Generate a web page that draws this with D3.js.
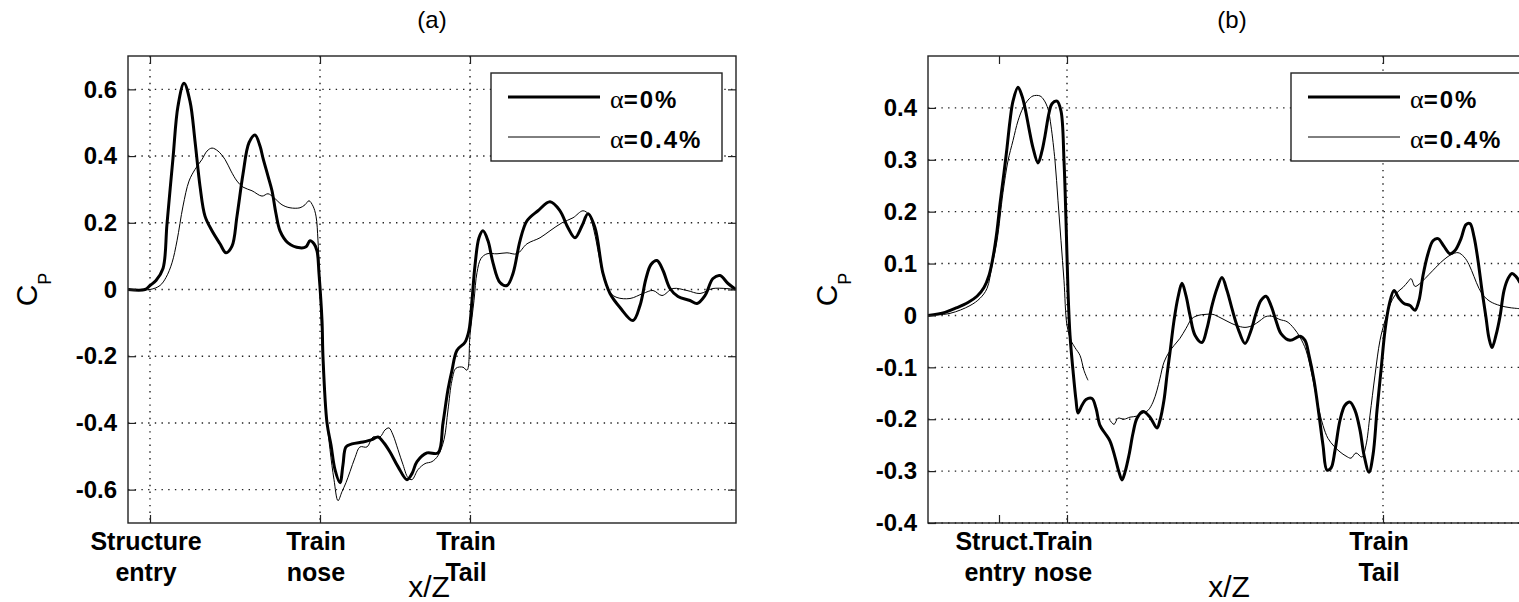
<!DOCTYPE html>
<html><head><meta charset="utf-8">
<script src="https://cdn.jsdelivr.net/npm/d3@7/dist/d3.min.js"></script>
<style>body{margin:0;background:#fff}</style>
</head><body>
<svg id="chart" width="1519" height="602"></svg>
<script>
// ---------------- data ----------------
const seriesNames = ["\u03b1=0%", "\u03b1=0.4%"];

// Panel (a)
const aTickX = [0.22, 1.92, 3.42];
const aTickLabels = [["Structure", "entry"], ["Train", "nose"], ["Train", "Tail"]];
const aTickGrid = [true, true, true];
const aTickY = [-0.6, -0.4, -0.2, 0, 0.2, 0.4, 0.6];

const aThickX = [0.00,0.17,0.22,0.28,0.35,0.39,0.45,0.50,0.56,0.62,0.67,0.72,0.77,0.84,0.92,0.98,1.04,1.09,1.15,1.21,1.27,1.32,1.35,1.40,1.44,1.48,1.52,1.60,1.72,1.78,1.82,1.86,1.89,1.91,1.94,1.95,1.99,2.03,2.07,2.12,2.15,2.18,2.24,2.35,2.44,2.50,2.56,2.62,2.70,2.79,2.84,2.89,2.99,3.10,3.15,3.20,3.24,3.29,3.37,3.41,3.44,3.47,3.51,3.55,3.60,3.65,3.72,3.79,3.85,3.92,3.99,4.10,4.22,4.32,4.40,4.47,4.54,4.60,4.67,4.75,4.82,4.92,5.05,5.12,5.18,5.23,5.29,5.35,5.42,5.50,5.62,5.69,5.77,5.85,5.92,6.00,6.08];
const aThickY = [0.00,0.00,0.012,0.027,0.063,0.197,0.394,0.55,0.618,0.564,0.445,0.31,0.22,0.176,0.137,0.11,0.13,0.22,0.346,0.44,0.463,0.43,0.394,0.34,0.296,0.227,0.176,0.14,0.125,0.128,0.146,0.137,0.116,0.048,-0.093,-0.203,-0.40,-0.466,-0.54,-0.579,-0.525,-0.472,-0.463,-0.457,-0.45,-0.442,-0.46,-0.487,-0.531,-0.57,-0.552,-0.516,-0.49,-0.49,-0.40,-0.30,-0.242,-0.182,-0.158,-0.122,-0.033,0.072,0.155,0.176,0.146,0.08,0.021,0.012,0.048,0.146,0.206,0.236,0.263,0.236,0.185,0.155,0.191,0.227,0.185,0.048,-0.012,-0.054,-0.093,-0.048,0.033,0.075,0.087,0.057,0.003,-0.021,-0.033,-0.042,-0.018,0.033,0.042,0.018,0.00];

const aThinX = [0.00,0.22,0.32,0.38,0.44,0.49,0.55,0.61,0.67,0.74,0.79,0.84,0.90,0.97,1.03,1.09,1.15,1.24,1.34,1.40,1.46,1.54,1.62,1.72,1.77,1.81,1.85,1.88,1.90,1.92,1.94,1.97,2.02,2.06,2.10,2.14,2.18,2.22,2.27,2.32,2.39,2.45,2.52,2.57,2.61,2.65,2.70,2.75,2.80,2.84,2.90,2.97,3.04,3.10,3.16,3.20,3.24,3.28,3.35,3.39,3.42,3.46,3.49,3.53,3.59,3.69,3.79,3.89,3.99,4.12,4.22,4.34,4.45,4.55,4.61,4.66,4.71,4.76,4.82,4.89,5.02,5.15,5.25,5.34,5.45,5.59,5.72,5.85,6.08];
const aThinY = [0.00,0.00,0.012,0.036,0.08,0.146,0.25,0.325,0.36,0.39,0.415,0.424,0.415,0.39,0.355,0.325,0.307,0.296,0.28,0.287,0.275,0.254,0.245,0.245,0.254,0.266,0.25,0.22,0.146,-0.003,-0.152,-0.33,-0.48,-0.57,-0.633,-0.606,-0.579,-0.546,-0.504,-0.472,-0.472,-0.442,-0.442,-0.421,-0.415,-0.436,-0.48,-0.525,-0.564,-0.57,-0.54,-0.522,-0.516,-0.498,-0.45,-0.361,-0.272,-0.236,-0.233,-0.242,-0.137,-0.033,0.051,0.093,0.107,0.107,0.11,0.107,0.137,0.155,0.176,0.20,0.215,0.236,0.224,0.176,0.101,0.033,-0.009,-0.024,-0.027,-0.012,-0.003,-0.018,0.003,-0.003,-0.012,0.003,0.00];

// Panel (b)
const bTickX = [0.71, 1.39, 4.55];
const bTickLabels = [["Struct.", "entry"], ["Train", "nose"], ["Train", "Tail"]];
const bTickGrid = [false, true, true];
const bTickY = [-0.4, -0.3, -0.2, -0.1, 0, 0.1, 0.2, 0.3, 0.4];

const bThickX = [0.00,0.17,0.29,0.40,0.49,0.56,0.61,0.65,0.69,0.72,0.76,0.79,0.82,0.85,0.90,0.94,0.97,1.01,1.05,1.10,1.14,1.17,1.21,1.24,1.29,1.33,1.36,1.38,1.40,1.42,1.45,1.48,1.50,1.54,1.58,1.64,1.68,1.72,1.77,1.82,1.87,1.91,1.94,1.97,2.01,2.05,2.09,2.15,2.22,2.29,2.32,2.36,2.39,2.42,2.46,2.50,2.54,2.58,2.62,2.67,2.74,2.79,2.84,2.89,2.94,2.99,3.04,3.10,3.17,3.23,3.28,3.33,3.38,3.43,3.48,3.53,3.62,3.72,3.77,3.81,3.86,3.91,3.95,3.99,4.03,4.07,4.12,4.17,4.22,4.27,4.32,4.36,4.41,4.45,4.49,4.53,4.57,4.61,4.66,4.71,4.76,4.82,4.87,4.91,4.95,5.00,5.05,5.10,5.16,5.22,5.27,5.33,5.38,5.42,5.46,5.50,5.54,5.58,5.61,5.64,5.68,5.72,5.76,5.80,5.84,5.88,5.92];
const bThickY = [0.00,0.006,0.015,0.025,0.037,0.054,0.077,0.112,0.163,0.215,0.275,0.323,0.375,0.413,0.44,0.423,0.40,0.36,0.323,0.294,0.317,0.346,0.39,0.408,0.413,0.394,0.298,0.183,0.048,-0.038,-0.106,-0.163,-0.188,-0.173,-0.162,-0.16,-0.179,-0.212,-0.227,-0.242,-0.273,-0.302,-0.317,-0.302,-0.269,-0.227,-0.198,-0.185,-0.196,-0.217,-0.202,-0.163,-0.115,-0.071,-0.01,0.035,0.062,0.038,0.00,-0.038,-0.052,-0.025,0.019,0.052,0.073,0.048,0.013,-0.025,-0.054,-0.029,0.004,0.029,0.037,0.019,-0.01,-0.035,-0.048,-0.04,-0.048,-0.077,-0.125,-0.192,-0.25,-0.298,-0.294,-0.26,-0.202,-0.173,-0.167,-0.183,-0.221,-0.269,-0.302,-0.269,-0.183,-0.106,-0.029,0.019,0.048,0.033,0.023,0.019,0.01,0.029,0.077,0.119,0.144,0.148,0.133,0.119,0.125,0.148,0.175,0.177,0.152,0.106,0.048,-0.004,-0.044,-0.062,-0.038,-0.002,0.048,0.071,0.081,0.075,0.063];

const bThinX = [0.00,0.22,0.42,0.52,0.59,0.64,0.69,0.75,0.80,0.85,0.90,0.95,1.00,1.05,1.12,1.16,1.20,1.23,1.27,1.30,1.33,1.36,1.39,1.43,1.47,1.52,1.56,1.60,1.71,1.82,1.86,1.90,1.96,2.02,2.09,2.15,2.20,2.25,2.29,2.32,2.36,2.41,2.46,2.52,2.58,2.64,2.70,2.77,2.85,2.92,3.00,3.08,3.17,3.25,3.32,3.38,3.45,3.52,3.59,3.66,3.72,3.78,3.84,3.90,3.95,4.00,4.06,4.12,4.18,4.23,4.28,4.34,4.38,4.42,4.47,4.52,4.57,4.63,4.69,4.75,4.80,4.83,4.87,4.91,4.97,5.05,5.15,5.23,5.30,5.36,5.41,5.46,5.51,5.56,5.62,5.72,5.82,5.92];
const bThinY = [0.00,0.004,0.019,0.033,0.052,0.096,0.144,0.237,0.298,0.337,0.375,0.40,0.415,0.423,0.423,0.415,0.398,0.365,0.298,0.221,0.144,0.067,-0.019,-0.048,-0.062,-0.077,-0.106,-0.125,null,-0.202,-0.21,-0.198,-0.2,-0.196,-0.194,-0.188,-0.183,-0.167,-0.144,-0.121,-0.09,-0.071,-0.058,-0.044,-0.025,-0.006,0.00,0.002,0.002,-0.004,-0.012,-0.019,-0.023,-0.019,-0.01,-0.002,-0.002,-0.008,-0.012,-0.025,-0.042,-0.067,-0.115,-0.173,-0.212,-0.237,-0.252,-0.263,-0.271,-0.275,-0.265,-0.273,-0.25,-0.192,-0.115,-0.048,-0.01,0.025,0.044,0.054,0.065,0.071,0.056,0.06,0.071,0.087,0.106,0.117,0.121,0.113,0.098,0.075,0.052,0.037,0.027,0.019,0.015,0.013];

// ---------------- drawing ----------------
const svg = d3.select("#chart");
const SANS = "'Liberation Sans', Arial, Helvetica, sans-serif";
const SERIF = "'Liberation Serif', 'Times New Roman', serif";

const panels = [
  { id: "a", title: "(a)", left: 128, top: 56, width: 608, height: 467, yDomain: [-0.7, 0.7],
    tickX: aTickX, tickLabels: aTickLabels, tickGrid: aTickGrid, tickY: aTickY,
    series: [ {x: aThickX, y: aThickY, w: 3}, {x: aThinX, y: aThinY, w: 1} ] },
  { id: "b", title: "(b)", left: 928, top: 56, width: 608, height: 467, yDomain: [-0.4, 0.5],
    tickX: bTickX, tickLabels: bTickLabels, tickGrid: bTickGrid, tickY: bTickY,
    series: [ {x: bThickX, y: bThickY, w: 3}, {x: bThinX, y: bThinY, w: 1} ] }
];

const fmt = d => d === 0 ? "0" : d.toFixed(1);

panels.forEach(p => {
  const x = d3.scaleLinear().domain([0, 6.08]).range([0, p.width]);
  const y = d3.scaleLinear().domain(p.yDomain).range([p.height, 0]);
  const g = svg.append("g").attr("transform", `translate(${p.left},${p.top})`);

  g.append("clipPath").attr("id", "clip-" + p.id)
    .append("rect").attr("width", p.width).attr("height", p.height);

  // grid
  const grid = g.append("g").attr("stroke", "#222").attr("stroke-width", 1.4)
    .attr("stroke-dasharray", "1.4,5.3");
  p.tickY.forEach(v => grid.append("line").attr("x1", 0).attr("x2", p.width)
    .attr("y1", y(v)).attr("y2", y(v)));
  p.tickX.forEach((v, i) => { if (p.tickGrid[i]) grid.append("line")
    .attr("x1", x(v)).attr("x2", x(v)).attr("y1", 0).attr("y2", p.height); });

  // curves
  const curves = g.append("g").attr("clip-path", `url(#clip-${p.id})`);
  p.series.forEach(s => {
    const pts = s.x.map((xv, i) => [xv, s.y[i]]);
    const line = d3.line().defined(d => d[1] !== null)
      .x(d => x(d[0])).y(d => y(d[1])).curve(d3.curveCatmullRom.alpha(0.5));
    curves.append("path").datum(pts).attr("d", line).attr("fill", "none")
      .attr("stroke", "#000").attr("stroke-width", s.w).attr("stroke-linejoin", "round");
  });

  // axes (box with inward ticks on all sides)
  const tl = 8;
  const axL = d3.axisLeft(y).tickValues(p.tickY).tickSize(-tl).tickPadding(11).tickFormat(fmt);
  const axR = d3.axisRight(y).tickValues(p.tickY).tickSize(-tl).tickFormat("");
  const axB = d3.axisBottom(x).tickValues(p.tickX).tickSize(-tl).tickFormat("");
  const axT = d3.axisTop(x).tickValues(p.tickX).tickSize(-tl).tickFormat("");
  const styleAx = sel => { sel.select(".domain").remove();
    sel.selectAll(".tick line").attr("stroke", "#222").attr("stroke-width", 1.2); };
  g.append("g").call(axL).call(styleAx).selectAll("text")
    .attr("font-family", SANS).attr("font-size", 24).attr("font-weight", "bold").attr("fill", "#000");
  g.append("g").attr("transform", `translate(${p.width},0)`).call(axR).call(styleAx);
  g.append("g").attr("transform", `translate(0,${p.height})`).call(axB).call(styleAx);
  g.append("g").call(axT).call(styleAx);
  g.append("rect").attr("width", p.width).attr("height", p.height)
    .attr("fill", "none").attr("stroke", "#222").attr("stroke-width", 1.4);

  // x tick labels (two lines)
  p.tickX.forEach((v, i) => {
    const t = g.append("text").attr("font-family", SANS).attr("font-size", 25)
      .attr("font-weight", "bold").attr("text-anchor", "middle").attr("fill", "#000");
    t.append("tspan").attr("x", x(v) - 4).attr("y", p.height + 27).text(p.tickLabels[i][0]);
    t.append("tspan").attr("x", x(v) - 4).attr("y", p.height + 58).text(p.tickLabels[i][1]);
  });

  // title
  g.append("text").attr("x", p.width / 2).attr("y", -28).attr("text-anchor", "middle")
    .attr("font-family", SANS).attr("font-size", 24).text(p.title);

  // x label
  g.append("text").attr("x", p.width / 2 - 3).attr("y", p.height + 74).attr("text-anchor", "middle")
    .attr("font-family", SANS).attr("font-size", 30).text("x/Z");

  // y label C_P
  const yl = g.append("text").attr("transform", `translate(-91,${p.height / 2}) rotate(-90)`)
    .attr("text-anchor", "middle").attr("font-family", SANS).attr("font-size", 30);
  yl.append("tspan").text("C");
  yl.append("tspan").attr("font-size", 18).attr("dy", 14).text("P");

  // legend
  const lg = g.append("g").attr("transform", `translate(${p.width - 245},17)`);
  lg.append("rect").attr("width", 231).attr("height", 88).attr("fill", "#fff")
    .attr("stroke", "#222").attr("stroke-width", 1.4);
  p.series.forEach((s, i) => {
    const ly = 24 + i * 40;
    lg.append("line").attr("x1", 17).attr("x2", 109).attr("y1", ly).attr("y2", ly)
      .attr("stroke", "#000").attr("stroke-width", s.w);
    const t = lg.append("text").attr("x", 119).attr("y", ly + 11).attr("fill", "#000");
    t.append("tspan").attr("font-family", SERIF).attr("font-size", 26).text(seriesNames[i].charAt(0));
    t.append("tspan").attr("font-family", SANS).attr("font-size", 24).attr("font-weight", "bold")
      .attr("letter-spacing", 2).text(seriesNames[i].slice(1));
  });
});
</script>
</body></html>
